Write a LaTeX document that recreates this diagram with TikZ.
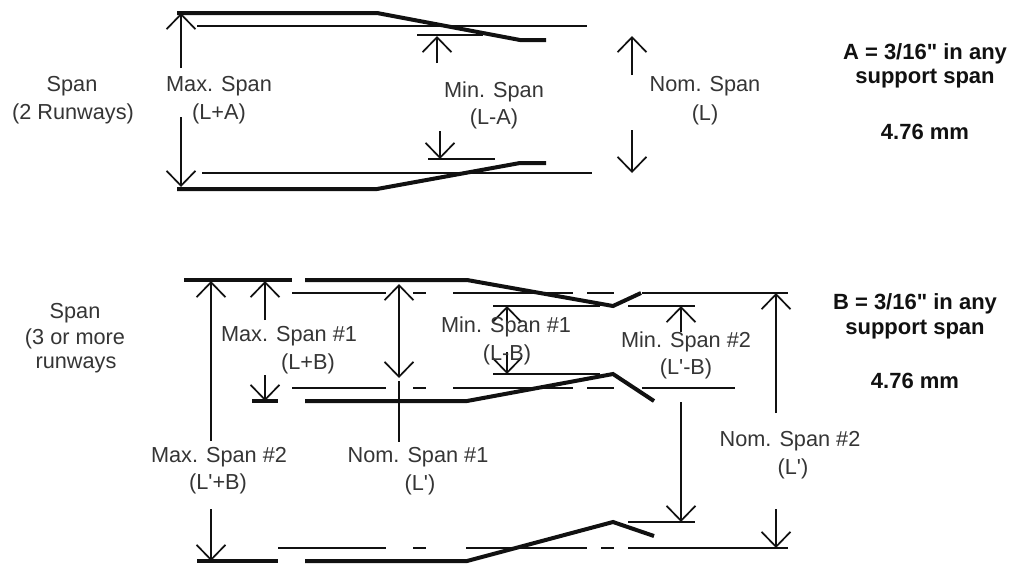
\documentclass[tikz,border=0pt]{standalone}
\usepackage{fontspec}
\newfontfamily\plainsans{Liberation Sans}
\usetikzlibrary{arrows.meta}
\definecolor{ink}{HTML}{111111}
\tikzset{
  thickrail/.style={ink,line width=4pt,line join=miter},
  thinrail/.style={ink,line width=1.7pt},
  dimline/.style={ink,line width=1.6pt,-{Straight Barb[length=15pt,width=29pt,line width=1.7pt]}},
  lbl/.style={text=ink!85!white,font=\plainsans\fontsize{21.7}{24}\selectfont,inner sep=0pt,yshift=-1.5pt},
  note/.style={text=ink,font=\plainsans\fontsize{22}{24}\bfseries\selectfont,inner sep=0pt,yshift=-1pt}
}
\begin{document}
\begin{tikzpicture}[x=1pt,y=-1pt]
\useasboundingbox[fill=white] (0,0) rectangle (1011,563);
% upper figure: rails
\draw[thinrail] (197,26) -- (587,26);
\draw[thinrail] (202,173) -- (592,173);
\draw[thinrail] (417,35) -- (483,35);
\draw[thinrail] (428,159) -- (495,159);
\draw[thickrail] (177,13) -- (377,13) -- (520,40) -- (546,40);
\draw[thickrail] (177,189) -- (377,189) -- (520,163) -- (546,163);
% upper figure: dimensions
\draw[dimline] (181,68) -- (181,13);
\draw[dimline] (181,117) -- (181,187);
\draw[dimline] (437,63) -- (437,36);
\draw[dimline] (440,131) -- (440,159);
\draw[dimline] (632,75) -- (632,36);
\draw[dimline] (632,130) -- (632,173);
% upper figure: labels
\node[lbl] (span2a) at (72,85) {Span};
\node[lbl] (span2b) at (73,112) {(2 Runways)};
\node[lbl] (maxa) at (219,85) {Max. Span};
\node[lbl] (maxb) at (219,112) {(L+A)};
\node[lbl] (mina) at (494,90) {Min. Span};
\node[lbl] (minb) at (494,117) {(L-A)};
\node[lbl] (noma) at (705,85) {Nom. Span};
\node[lbl] (nomb) at (705,113) {(L)};
\node[note] (na) at (925,53) {A = 3/16" in any};
\node[note] (nb) at (925,78) {support span};
\node[note] (nc) at (925,131) {4.76 mm};
% lower figure: rails
\draw[thickrail] (184,280) -- (292,280);
\draw[thickrail] (305,280) -- (467,280) -- (613,306) -- (641,293);
\draw[thickrail] (252,401) -- (278,401);
\draw[thickrail] (305,401) -- (467,401) -- (613,374) -- (654,401);
\draw[thickrail] (197,561) -- (278,561);
\draw[thickrail] (305,561) -- (467,561) -- (613,522) -- (654,536);
\foreach \y/\xe in {293/788,388/735}{
  \draw[thinrail] (292,\y) -- (386,\y);
  \draw[thinrail] (413,\y) -- (426,\y);
  \draw[thinrail] (453,\y) -- (573,\y);
  \draw[thinrail] (587,\y) -- (614,\y);
  \draw[thinrail] (642,\y) -- (\xe,\y);
}
\draw[thinrail] (278,548) -- (386,548);
\draw[thinrail] (413,548) -- (426,548);
\draw[thinrail] (466,548) -- (587,548);
\draw[thinrail] (601,548) -- (614,548);
\draw[thinrail] (628,548) -- (788,548);
\draw[thinrail] (493,306) -- (600,306);
\draw[thinrail] (493,374) -- (600,374);
\draw[thinrail] (628,306) -- (695,306);
\draw[thinrail] (628,522) -- (695,522);
% lower figure: dimensions
\draw[dimline] (211,441) -- (211,281);
\draw[dimline] (211,509) -- (211,561);
\draw[dimline] (265,320) -- (265,281);
\draw[dimline] (265,375) -- (265,401);
\draw[dimline] (399,330) -- (399,284);
\draw[dimline] (399,330) -- (399,378);
\draw[ink,line width=1.8pt] (399,381) -- (399,442);
\draw[dimline] (507,330) -- (507,306);
\draw[dimline] (507,352) -- (507,374);
\draw[dimline] (681,332) -- (681,306);
\draw[dimline] (681,402) -- (681,522);
\draw[dimline] (776,413) -- (776,293);
\draw[dimline] (776,509) -- (776,548);
% lower figure: labels
\node[lbl] (s3a) at (75,312) {Span};
\node[lbl] (s3b) at (75,337) {(3 or more};
\node[lbl] (s3c) at (76,363) {runways};
\node[lbl] (m1a) at (289,335) {Max. Span \#1};
\node[lbl] (m1b) at (308,362) {(L+B)};
\node[lbl] (n1a) at (506,325) {Min. Span \#1};
\node[lbl] (n1b) at (507,353) {(L-B)};
\node[lbl] (n2a) at (686,340) {Min. Span \#2};
\node[lbl] (n2b) at (686,367) {(L'-B)};
\node[lbl] (m2a) at (219,456) {Max. Span \#2};
\node[lbl] (m2b) at (218,482) {(L'+B)};
\node[lbl] (o1a) at (418,456) {Nom. Span \#1};
\node[lbl] (o1b) at (420,483) {(L')};
\node[lbl] (o2a) at (790,440) {Nom. Span \#2};
\node[lbl] (o2b) at (793,467) {(L')};
\node[note] (ba) at (915,303) {B = 3/16" in any};
\node[note] (bb) at (915,329) {support span};
\node[note] (bc) at (915,380) {4.76 mm};
\end{tikzpicture}
\end{document}
